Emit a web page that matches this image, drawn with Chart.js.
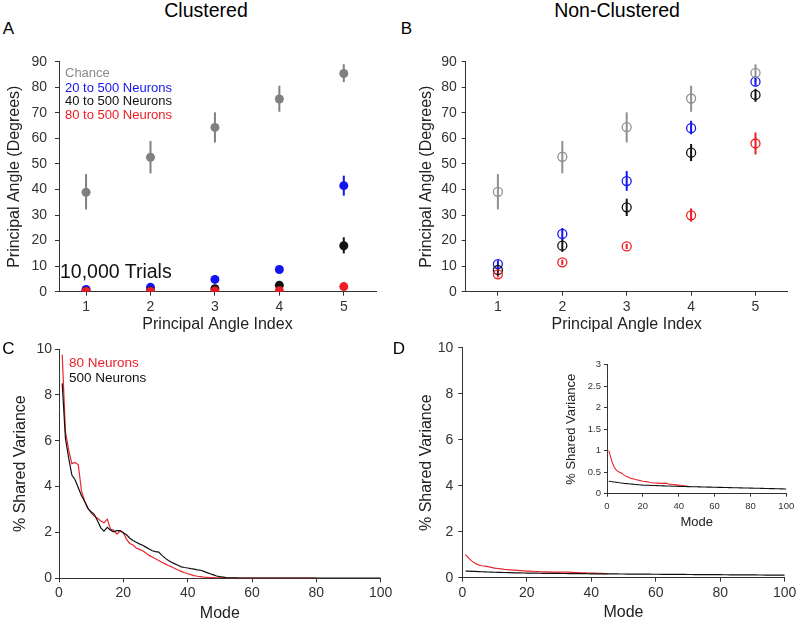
<!DOCTYPE html>
<html>
<head>
<meta charset="utf-8">
<script src="https://cdn.jsdelivr.net/npm/chart.js@4"></script>
<style>
  body { margin: 0; width: 799px; height: 621px; overflow: hidden; background: #fff; position: relative;
         font-family: "Liberation Sans", Arial, sans-serif; }
  canvas { position: absolute; }
  .lbl { position: absolute; white-space: nowrap; line-height: 1; transform: translateY(-50%); }
  .ctr { transform: translate(-50%, -50%); }
</style>
</head>
<body>
<canvas id="panel-a" width="399" height="300" style="left:0;top:40px"></canvas>
<canvas id="panel-b" width="399" height="300" style="left:400px;top:40px"></canvas>
<canvas id="panel-c" width="399" height="295" style="left:0;top:330px"></canvas>
<canvas id="panel-d" width="399" height="295" style="left:400px;top:330px"></canvas>
<canvas id="panel-d-inset" width="239" height="180" style="left:560px;top:355px"></canvas>

<div class="lbl ctr" style="left:206px;top:10.5px;font-size:19.5px">Clustered</div>
<div class="lbl ctr" style="left:617px;top:10.5px;font-size:19.5px">Non-Clustered</div>
<div class="lbl ctr" style="left:8.5px;top:27.5px;font-size:17px">A</div>
<div class="lbl ctr" style="left:406.5px;top:27.5px;font-size:17px">B</div>
<div class="lbl ctr" style="left:8.5px;top:348px;font-size:17px">C</div>
<div class="lbl ctr" style="left:399px;top:348px;font-size:17px">D</div>

<div class="lbl" style="left:65px;top:72px;font-size:13px;color:#8a8a8a">Chance</div>
<div class="lbl" style="left:65px;top:86.5px;font-size:13px;color:#1414ee">20 to 500 Neurons</div>
<div class="lbl" style="left:65px;top:100.3px;font-size:13px;color:#111">40 to 500 Neurons</div>
<div class="lbl" style="left:65px;top:114px;font-size:13px;color:#ee1c24">80 to 500 Neurons</div>
<div class="lbl" style="left:60px;top:272px;font-size:19.5px;color:#111">10,000 Trials</div>

<div class="lbl" style="left:69px;top:362.7px;font-size:13.5px;color:#e8202a">80 Neurons</div>
<div class="lbl" style="left:69px;top:378.3px;font-size:13.5px;color:#111">500 Neurons</div>

<script>
const FONT = '"Liberation Sans", Arial, sans-serif';
const INK = '#333';

// principal angle index (x) for panels A and B
const angleIndex = [1, 2, 3, 4, 5];

// Panel A: clustered
const clChance = [38.9, 52.6, 64.3, 75.4, 85.4];
const clChanceLo = [32.2, 46.3, 58.4, 70.4, 82.0];
const clChanceHi = [46.0, 59.0, 70.2, 80.6, 89.0];
const cl20 = [0.9, 1.7, 4.8, 8.7, 41.5];
const cl20Lo = [0.9, 1.7, 4.8, 8.7, 37.6];
const cl20Hi = [0.9, 1.7, 4.8, 8.7, 45.4];
const cl40 = [0.2, 0.3, 1.2, 2.5, 18.0];
const cl40Lo = [0.2, 0.3, 1.2, 2.5, 15.0];
const cl40Hi = [0.2, 0.3, 1.2, 2.5, 21.3];
const cl80 = [0.1, 0.1, 0.3, 0.4, 2.0];

// Panel B: non-clustered
const ncChance = [39.1, 52.8, 64.4, 75.6, 85.6];
const ncChanceLo = [32.2, 46.3, 58.4, 70.4, 82.0];
const ncChanceHi = [46.0, 59.0, 70.2, 80.6, 89.0];
const nc20 = [10.8, 22.6, 43.3, 64.0, 82.2];
const nc20Lo = [9.3, 20.3, 39.5, 61.6, 80.6];
const nc20Hi = [12.3, 24.9, 47.2, 66.9, 83.8];
const nc40 = [8.5, 18.0, 33.0, 54.4, 77.0];
const nc40Lo = [7.5, 15.6, 29.6, 51.1, 74.3];
const nc40Hi = [9.5, 20.5, 36.4, 57.8, 79.4];
const nc80 = [6.8, 11.5, 17.7, 29.9, 58.0];
const nc80Lo = [5.6, 10.5, 16.7, 27.4, 53.7];
const nc80Hi = [8.0, 12.5, 18.7, 32.6, 62.3];

// Panel C: % shared variance per mode (clustered), modes start at 1
const varC80 = [
  9.75, 6.4, 5.6, 5.0, 5.05, 4.95, 3.8, 3.35, 3.05, 2.85,
  2.7, 2.62, 2.5, 2.42, 2.58, 2.15, 2.1, 1.93, 2.06, 2.0,
  1.7, 1.52, 1.45, 1.32, 1.26, 1.2, 1.1, 1.0, 0.93, 0.85,
  0.78, 0.7, 0.63, 0.56, 0.5, 0.43, 0.36, 0.3, 0.24, 0.2,
  0.16, 0.12, 0.09, 0.07, 0.05, 0.04, 0.03, 0.03, 0.02, 0.02,
  0.02, 0.01, 0.01, 0.01, 0.01, 0.01, 0.01, 0.01, 0.01, 0.01,
  0.01, 0.01, 0.01, 0.01, 0.01, 0.01, 0.01, 0.01, 0.01, 0.01,
  0.01, 0.01, 0.01, 0.01, 0.01, 0.01, 0.01, 0.01, 0.01, 0.01,
];
const varC500 = [
  8.5, 6.1, 5.25, 4.5, 4.3, 3.95, 3.6, 3.35, 3.05, 2.9,
  2.78, 2.5, 2.2, 2.06, 2.22, 2.1, 2.03, 2.08, 2.08, 1.98,
  1.9, 1.75, 1.65, 1.57, 1.5, 1.44, 1.36, 1.28, 1.2, 1.16,
  1.14, 1.0, 0.88, 0.78, 0.7, 0.63, 0.57, 0.5, 0.47, 0.45,
  0.42, 0.4, 0.37, 0.35, 0.3, 0.25, 0.2, 0.15, 0.1, 0.07,
  0.05, 0.03, 0.02, 0.02, 0.02, 0.01, 0.01, 0.01, 0.01, 0.01,
  0.01, 0.01, 0.01, 0.01, 0.01, 0.01, 0.01, 0.01, 0.01, 0.01,
  0.01, 0.01, 0.01, 0.01, 0.01, 0.01, 0.01, 0.01, 0.01, 0.01,
  0.01, 0.01, 0.01, 0.01, 0.01, 0.01, 0.01, 0.01, 0.01, 0.01,
  0.01, 0.01, 0.01, 0.01, 0.01, 0.01, 0.01, 0.01, 0.01, 0.01,
];

// Panel D: % shared variance per mode (non-clustered)
const varD80 = [
  1.0, 0.85, 0.72, 0.62, 0.56, 0.52, 0.5, 0.48, 0.45, 0.42,
  0.4, 0.38, 0.36, 0.35, 0.34, 0.33, 0.32, 0.31, 0.3, 0.29,
  0.285, 0.28, 0.27, 0.26, 0.255, 0.25, 0.25, 0.245, 0.24, 0.24,
  0.24, 0.245, 0.24, 0.23, 0.22, 0.22, 0.21, 0.21, 0.2, 0.2,
  0.195, 0.19, 0.185, 0.18, 0.175,
];
const varD500 = [
  0.29, 0.283, 0.277, 0.271, 0.265, 0.259, 0.253, 0.248, 0.243, 0.238,
  0.234, 0.23, 0.226, 0.222, 0.218, 0.214, 0.21, 0.207, 0.204, 0.2,
  0.198, 0.196, 0.195, 0.193, 0.192, 0.19, 0.189, 0.188, 0.186, 0.185,
  0.183, 0.182, 0.18, 0.179, 0.178, 0.176, 0.175, 0.173, 0.172, 0.17,
  0.169, 0.168, 0.167, 0.166, 0.165, 0.164, 0.163, 0.162, 0.161, 0.16,
  0.159, 0.158, 0.157, 0.156, 0.155, 0.154, 0.153, 0.152, 0.151, 0.15,
  0.149, 0.148, 0.147, 0.146, 0.145, 0.144, 0.143, 0.142, 0.141, 0.14,
  0.139, 0.138, 0.137, 0.136, 0.135, 0.134, 0.133, 0.132, 0.131, 0.13,
  0.129, 0.128, 0.127, 0.126, 0.125, 0.124, 0.123, 0.122, 0.121, 0.12,
  0.119, 0.118, 0.117, 0.116, 0.115, 0.114, 0.113, 0.112, 0.111, 0.11,
];

const angleTicks = [1, 2, 3, 4, 5];
const GRAY = '#808080';
const GRAY_OPEN = '#909090';
const BLUE = '#1414ee';
const BLACK = '#111';
const RED = '#ee1c24';
const LINE_RED = '#e8262d';

Chart.defaults.font.family = FONT;
Chart.defaults.color = INK;

const errorBars = {
  id: 'errorBars',
  beforeDatasetsDraw(chart) {
    const { ctx, scales: { x, y } } = chart;
    chart.data.datasets.forEach((ds) => {
      if (!ds.errLo) return;
      ctx.save();
      ctx.strokeStyle = ds.errColor;
      ctx.lineWidth = 2;
      ds.data.forEach((p, i) => {
        if (ds.errLo[i] === ds.errHi[i]) return;
        const px = x.getPixelForValue(p.x);
        ctx.beginPath();
        ctx.moveTo(px, y.getPixelForValue(ds.errLo[i]));
        ctx.lineTo(px, y.getPixelForValue(ds.errHi[i]));
        ctx.stroke();
      });
      ctx.restore();
    });
  },
};

function pts(xs, ys) {
  return ys.map((v, i) => ({ x: xs[i], y: v }));
}

function modePts(ys) {
  return ys.map((v, i) => ({ x: i + 1, y: v }));
}

function axis(o) {
  return {
    type: 'linear',
    min: o.min,
    max: o.max,
    ticks: {
      stepSize: o.step,
      padding: o.tickPad,
      font: { size: o.tickSize },
      color: INK,
      callback: (v) => `${v}`,
    },
    afterBuildTicks: o.ticks ? (s) => { s.ticks = o.ticks.map((v) => ({ value: v })); } : undefined,
    afterFit: (s) => { if (o.width != null) s.width = o.width; if (o.height != null) s.height = o.height; },
    grid: { drawOnChartArea: false, drawTicks: true, tickLength: o.tickLength, color: INK },
    border: { display: true, color: INK, width: 1 },
    title: {
      display: true,
      text: o.title,
      font: { size: o.titleSize },
      color: '#222',
      padding: { top: o.titlePad, bottom: o.titlePad },
    },
  };
}

function baseOptions(padding, x, y) {
  return {
    responsive: false,
    animation: false,
    layout: { padding },
    plugins: { legend: { display: false }, tooltip: { enabled: false } },
    scales: { x, y },
  };
}

function angleDataset(ys, lo, hi, color, open) {
  return {
    data: pts(angleIndex, ys),
    errLo: lo || ys,
    errHi: hi || ys,
    errColor: color,
    pointRadius: 4.5,
    pointBackgroundColor: open ? 'rgba(0,0,0,0)' : color,
    pointBorderColor: color,
    pointBorderWidth: open ? 1.3 : 0,
  };
}

// A
new Chart(document.getElementById('panel-a'), {
  type: 'scatter',
  data: {
    datasets: [
      angleDataset(cl80, null, null, RED, false),
      angleDataset(cl40, cl40Lo, cl40Hi, BLACK, false),
      angleDataset(cl20, cl20Lo, cl20Hi, BLUE, false),
      angleDataset(clChance, clChanceLo, clChanceHi, GRAY, false),
    ],
  },
  options: baseOptions(
    { left: 0, top: 21.7, right: 23, bottom: 0 },
    axis({ min: 0.58, max: 5.5, ticks: angleTicks, tickPad: 3, tickSize: 14, tickLength: 4,
           height: 48.3, title: 'Principal Angle Index', titleSize: 16, titlePad: 5.4 }),
    axis({ min: 0, max: 90, step: 10, tickPad: 8, tickSize: 14, tickLength: 4,
           width: 59, title: 'Principal Angle (Degrees)', titleSize: 16, titlePad: 5.4 }),
  ),
  plugins: [errorBars],
});

// B
new Chart(document.getElementById('panel-b'), {
  type: 'scatter',
  data: {
    datasets: [
      angleDataset(ncChance, ncChanceLo, ncChanceHi, GRAY_OPEN, true),
      angleDataset(nc80, nc80Lo, nc80Hi, RED, true),
      angleDataset(nc40, nc40Lo, nc40Hi, BLACK, true),
      angleDataset(nc20, nc20Lo, nc20Hi, BLUE, true),
    ],
  },
  options: baseOptions(
    { left: 12.4, top: 21.7, right: 11.3, bottom: 0 },
    axis({ min: 0.5, max: 5.5, ticks: angleTicks, tickPad: 3, tickSize: 14, tickLength: 4,
           height: 48.3, title: 'Principal Angle Index', titleSize: 16, titlePad: 5.4 }),
    axis({ min: 0, max: 90, step: 10, tickPad: 5, tickSize: 14, tickLength: 4,
           width: 53.3, title: 'Principal Angle (Degrees)', titleSize: 16, titlePad: 5 }),
  ),
  plugins: [errorBars],
});

function lineDataset(ys, color, width) {
  return {
    data: modePts(ys),
    showLine: true,
    borderColor: color,
    borderWidth: width,
    pointRadius: 0,
    tension: 0,
  };
}

// C
new Chart(document.getElementById('panel-c'), {
  type: 'scatter',
  data: { datasets: [lineDataset(varC500, BLACK, 1.2), lineDataset(varC80, LINE_RED, 1.2)] },
  options: baseOptions(
    { left: 5.9, top: 19, right: 18.3, bottom: 0 },
    axis({ min: 0, max: 100, step: 20, tickPad: 2.6, tickSize: 14, tickLength: 4,
           height: 46.7, title: 'Mode', titleSize: 16, titlePad: 2.1 }),
    axis({ min: 0, max: 10, step: 2, tickPad: 3, tickSize: 14, tickLength: 4,
           width: 53.1, title: '% Shared Variance', titleSize: 16, titlePad: 5 }),
  ),
});

// D
new Chart(document.getElementById('panel-d'), {
  type: 'scatter',
  data: { datasets: [lineDataset(varD500, BLACK, 1.2), lineDataset(varD80, LINE_RED, 1.2)] },
  options: baseOptions(
    { left: 12.1, top: 17.7, right: 13.7, bottom: 0 },
    axis({ min: 0, max: 100, step: 20, tickPad: 2.6, tickSize: 14, tickLength: 4,
           height: 47.3, title: 'Mode', titleSize: 16, titlePad: 2.7 }),
    axis({ min: 0, max: 10, step: 2, tickPad: 5, tickSize: 14, tickLength: 4,
           width: 50.2, title: '% Shared Variance', titleSize: 16, titlePad: 5 }),
  ),
});

// D inset
new Chart(document.getElementById('panel-d-inset'), {
  type: 'scatter',
  data: { datasets: [lineDataset(varD500, BLACK, 1.1), lineDataset(varD80, LINE_RED, 1.1)] },
  options: baseOptions(
    { left: 0, top: 9.7, right: 12.7, bottom: 0 },
    axis({ min: 0, max: 100, step: 20, tickPad: 3.9, tickSize: 9.5, tickLength: 3,
           height: 41.3, title: 'Mode', titleSize: 13, titlePad: 4.9 }),
    axis({ min: 0, max: 3, step: 0.5, tickPad: 3, tickSize: 9.5, tickLength: 3,
           width: 47, title: '% Shared Variance', titleSize: 13, titlePad: 3.9 }),
  ),
});
</script>
</body>
</html>
